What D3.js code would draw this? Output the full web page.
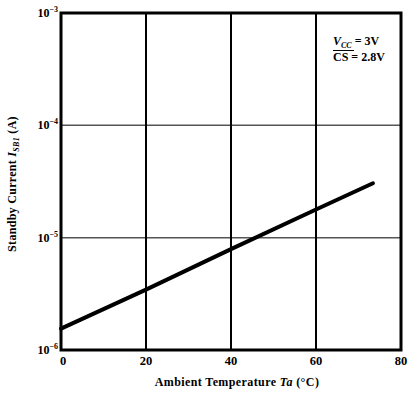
<!DOCTYPE html>
<html>
<head>
<meta charset="utf-8">
<script src="https://cdn.jsdelivr.net/npm/d3@7"></script>
<style>
  body { margin: 0; background: #fff; }
  text { font-family: "Liberation Serif", "DejaVu Serif", serif; font-weight: bold; fill: #000; }
</style>
</head>
<body>
<div id="chart"></div>
<script>
// data
const temps = [0, 20, 40, 60, 73.4];
const currents = [1.55e-6, 3.45e-6, 7.9e-6, 1.78e-5, 3.05e-5];
const xTicks = [0, 20, 40, 60, 80];
const yTicks = [1e-6, 1e-5, 1e-4, 1e-3];
const yExp = ["-6", "-5", "-4", "-3"];

const width = 408, height = 394;
const margin = { left: 61, right: 7, top: 13, bottom: 44 };

const svg = d3.select("#chart").append("svg")
    .attr("width", width)
    .attr("height", height);

const x = d3.scaleLinear().domain([0, 80]).range([margin.left, width - margin.right]);
const y = d3.scaleLog().domain([1e-6, 1e-3]).range([height - margin.bottom, margin.top]);

// grid
svg.append("g")
    .selectAll("line")
    .data(yTicks.slice(1, 3))
    .enter().append("line")
    .attr("x1", x(0)).attr("x2", x(80))
    .attr("y1", d => y(d)).attr("y2", d => y(d))
    .attr("stroke", "#555")
    .attr("stroke-width", 1.5);

svg.append("g")
    .selectAll("line")
    .data(xTicks.slice(1, 4))
    .enter().append("line")
    .attr("x1", d => x(d)).attr("x2", d => x(d))
    .attr("y1", y(1e-3)).attr("y2", y(1e-6))
    .attr("stroke", "#000")
    .attr("stroke-width", 2);

// frame
svg.append("rect")
    .attr("x", x(0)).attr("y", y(1e-3))
    .attr("width", x(80) - x(0))
    .attr("height", y(1e-6) - y(1e-3))
    .attr("fill", "none")
    .attr("stroke", "#000")
    .attr("stroke-width", 3);

// curve
const line = d3.line()
    .x((d, i) => x(temps[i]))
    .y(d => y(d));

svg.append("path")
    .datum(currents)
    .attr("d", line)
    .attr("fill", "none")
    .attr("stroke", "#000")
    .attr("stroke-width", 4)
    .attr("stroke-linecap", "round");

// x tick labels
svg.append("g")
    .selectAll("text")
    .data(xTicks)
    .enter().append("text")
    .attr("x", d => x(d) + (d === 0 ? 2 : 0))
    .attr("y", y(1e-6) + 15)
    .attr("text-anchor", "middle")
    .style("font-size", "12.5px")
    .text(d => d);

// y tick labels 10^n
const yl = svg.append("g")
    .selectAll("text")
    .data(yTicks)
    .enter().append("text")
    .attr("x", x(0) - 3)
    .attr("y", d => y(d) + 4)
    .attr("text-anchor", "end")
    .style("font-size", "12px");
yl.append("tspan").text("10");
yl.append("tspan")
    .attr("dy", -5)
    .style("font-size", "8px")
    .text((d, i) => yExp[i].replace("-", "\u2212"));

// axis titles
const xt = svg.append("text")
    .attr("x", 237)
    .attr("y", 386)
    .attr("text-anchor", "middle")
    .style("font-size", "12px")
    .style("letter-spacing", "0.4px");
xt.append("tspan").text("Ambient Temperature  ");
xt.append("tspan").style("font-style", "italic").text("Ta");
xt.append("tspan").text("  (\u00b0C)");

const yt = svg.append("text")
    .attr("transform", "translate(16,184) rotate(-90)")
    .attr("text-anchor", "middle")
    .style("font-size", "12px")
    .style("letter-spacing", "0.3px");
yt.append("tspan").text("Standby Current  ");
yt.append("tspan").style("font-style", "italic").text("I");
yt.append("tspan").attr("dy", 3).style("font-size", "8px").style("font-style", "italic").text("SB1");
yt.append("tspan").attr("dy", -3).text("  (A)");

// conditions note
const n1 = svg.append("text")
    .attr("x", 333).attr("y", 45)
    .style("font-size", "12px");
n1.append("tspan").style("font-style", "italic").text("V");
n1.append("tspan").attr("dy", 3).style("font-size", "8px").style("font-style", "italic").text("CC");
n1.append("tspan").attr("dy", -3).text(" = 3V");
svg.append("line")
    .attr("x1", 333).attr("x2", 354)
    .attr("y1", 50.5).attr("y2", 50.5)
    .attr("stroke", "#000").attr("stroke-width", 1);

const n2 = svg.append("text")
    .attr("x", 333).attr("y", 61)
    .style("font-size", "12px");
n2.append("tspan").text("CS");
n2.append("tspan").text(" = 2.8V");
</script>
</body>
</html>
